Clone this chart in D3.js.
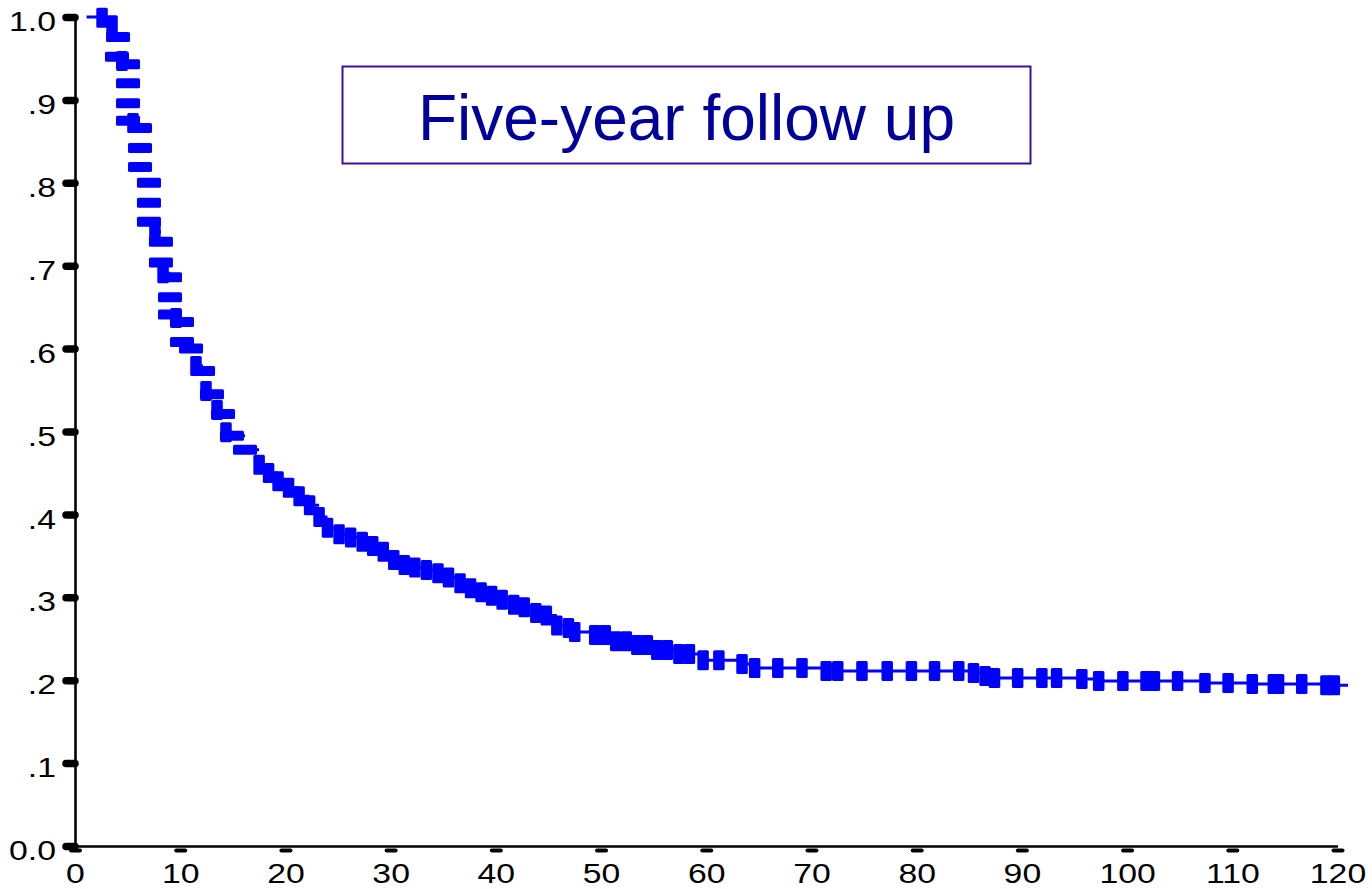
<!DOCTYPE html>
<html>
<head>
<meta charset="utf-8">
<script src="https://cdn.jsdelivr.net/npm/d3@7"></script>
<style>
  html, body { margin: 0; padding: 0; background: #fff; }
  svg { display: block; }
  text { font-family: "Liberation Sans", Arial, sans-serif; }
</style>
</head>
<body>
<svg id="chart" width="1372" height="889"></svg>
<script>
// Cumulative survival, follow-up time in months.
// Early steps of the survival function (drawn as wide bars).
const stepTime = [4.09, 3.99, 5.04, 5.04, 5.04, 5.04, 6.18, 6.18, 6.18, 7.03, 7.03, 7.03,
  8.17, 8.17, 9.03, 9.03, 9.03, 10.17, 10.17, 11.03, 12.17, 13.02, 14.07, 14.92, 16.16];
const stepSurv = [0.976, 0.952, 0.943, 0.920, 0.896, 0.875, 0.866, 0.842, 0.819, 0.800, 0.776, 0.753,
  0.729, 0.704, 0.686, 0.662, 0.641, 0.632, 0.608, 0.600, 0.573, 0.545, 0.521, 0.495, 0.478];

// Censored observations (drawn as upright marks).
const censTime = [2.57, 3.52, 4.47, 5.51, 7.6, 8.37, 9.6, 11.5, 12.45, 13.5, 14.35,
  17.5, 18.4, 19.3, 20.3, 21.3, 22.3, 23.2, 24.0, 25.1, 26.2, 27.3, 28.3, 29.3, 30.3,
  31.3, 32.3, 33.4, 34.5, 35.5, 36.6, 37.6, 38.6, 39.6, 40.6, 41.7, 42.7, 43.8, 44.8,
  45.8, 46.9, 47.5, 49.4, 50.4, 51.4, 52.4, 53.4, 54.4, 55.3, 56.3, 57.4, 58.4, 59.7,
  61.2, 63.4, 64.6, 66.8, 69.1, 71.4, 72.5, 74.8, 77.2, 79.5, 81.7, 84.0, 85.4, 86.5,
  87.4, 89.6, 91.9, 93.3, 95.7, 97.3, 99.6, 101.8, 102.6, 104.8, 107.4, 109.6, 111.9,
  113.9, 114.4, 116.6, 118.9, 119.7];
const censSurv = [0.999, 0.990, 0.947, 0.872, 0.741, 0.691, 0.637, 0.579, 0.549, 0.526, 0.499,
  0.460, 0.450, 0.440, 0.432, 0.422, 0.411, 0.397, 0.384, 0.376, 0.372, 0.367, 0.362, 0.355, 0.345,
  0.339, 0.336, 0.333, 0.329, 0.324, 0.317, 0.311, 0.306, 0.302, 0.297, 0.291, 0.288, 0.281, 0.278,
  0.266, 0.263, 0.258, 0.2545, 0.2545, 0.247, 0.247, 0.2425, 0.2425, 0.2364, 0.2364, 0.2316, 0.2316, 0.224,
  0.224, 0.2195, 0.2147, 0.2147, 0.2147, 0.2111, 0.2111, 0.2111, 0.2111, 0.2111, 0.2111, 0.2111, 0.2087, 0.205,
  0.2027, 0.2027, 0.2027, 0.2027, 0.2014, 0.199, 0.199, 0.199, 0.199, 0.199, 0.1966, 0.1966, 0.1954,
  0.1954, 0.1954, 0.1954, 0.194, 0.194];

// First and last follow-up times of the curve.
const startTime = 1.1;
const endTime = 121.0;

const xTicks = [0, 10, 20, 30, 40, 50, 60, 70, 80, 90, 100, 110, 120];
const yTicks = [0, 0.1, 0.2, 0.3, 0.4, 0.5, 0.6, 0.7, 0.8, 0.9, 1.0];
const yTickLabels = ["0.0", ".1", ".2", ".3", ".4", ".5", ".6", ".7", ".8", ".9", "1.0"];
const titleText = "Five-year follow up";

const svg = d3.select("#chart");
const blue = "#0000ff";
const labelStretch = 1.25;   // tick labels are set in a wide face

const x = d3.scaleLinear().domain([0, 120]).range([75, 1337.5]);
const y = d3.scaleLinear().domain([0, 1]).range([846, 17]);

// Axes
const yAxis = d3.axisLeft(y)
  .tickValues(yTicks)
  .tickFormat((d, i) => yTickLabels[i])
  .tickSize(9)
  .tickSizeOuter(0)
  .tickPadding(9);
const gy = svg.append("g").attr("transform", `translate(${x(0)},0)`).call(yAxis);
gy.select(".domain").attr("stroke", "#000").attr("stroke-width", 2.6);
gy.selectAll(".tick line").attr("stroke", "#000").attr("stroke-width", 7.5).attr("stroke-linecap", "round");
gy.selectAll(".tick text")
  .attr("fill", "#000")
  .attr("x", -19 / labelStretch)
  .attr("y", 5)
  .attr("transform", `scale(${labelStretch},1)`)
  .style("font-size", "27px")
  .attr("font-family", null);

const xAxis = d3.axisBottom(x)
  .tickValues(xTicks)
  .tickFormat(d3.format("d"))
  .tickSizeOuter(0);
const gx = svg.append("g").attr("transform", `translate(0,${y(0)})`).call(xAxis);
gx.select(".domain").attr("stroke", "#000").attr("stroke-width", 2.6);
gx.selectAll(".tick line")
  .attr("x1", -4.5).attr("x2", 4.5).attr("y1", 4.5).attr("y2", 4.5)
  .attr("stroke", "#000").attr("stroke-width", 4).attr("stroke-linecap", "round");
gx.selectAll(".tick text")
  .attr("fill", "#000")
  .attr("y", 18)
  .attr("transform", `scale(${labelStretch},1)`)
  .style("font-size", "27px")
  .attr("font-family", null);

// Title box
const box = svg.append("g");
box.append("rect")
  .attr("x", 342.5).attr("y", 66.5).attr("width", 688).attr("height", 97)
  .attr("fill", "#fff").attr("stroke", "#3a10a0").attr("stroke-width", 2);
box.append("text")
  .attr("x", 686.5).attr("y", 140)
  .attr("text-anchor", "middle")
  .attr("fill", "#00009a")
  .style("font-size", "64px")
  .text(titleText);

// Survival curve: horizontal runs between successive observations
const pts = [{ t: startTime, s: 1 }]
  .concat(stepTime.map((t, i) => ({ t, s: stepSurv[i] })))
  .concat(censTime.map((t, i) => ({ t, s: censSurv[i] })))
  .sort((a, b) => a.t - b.t || b.s - a.s);
const runs = pts.map((p, i) => {
  const next = i < pts.length - 1 ? pts[i + 1].t : endTime;
  return `M${x(p.t)},${y(p.s)}H${x(next)}`;
}).join("");
svg.append("path")
  .attr("d", runs)
  .attr("fill", "none")
  .attr("stroke", blue)
  .attr("stroke-width", 3);

// Step bars
svg.append("g").selectAll("rect")
  .data(stepTime.map((t, i) => ({ t, s: stepSurv[i] })))
  .join("rect")
  .attr("x", d => x(d.t) - 12)
  .attr("y", d => y(d.s) - 5)
  .attr("width", 24)
  .attr("height", 10)
  .attr("rx", 1.5)
  .attr("fill", blue);

// Censoring marks
svg.append("g").selectAll("rect")
  .data(censTime.map((t, i) => ({ t, s: censSurv[i] })))
  .join("rect")
  .attr("x", d => x(d.t) - 5.75)
  .attr("y", d => y(d.s) - 10)
  .attr("width", 11.5)
  .attr("height", 20)
  .attr("rx", 1.5)
  .attr("fill", blue);
</script>
</body>
</html>
